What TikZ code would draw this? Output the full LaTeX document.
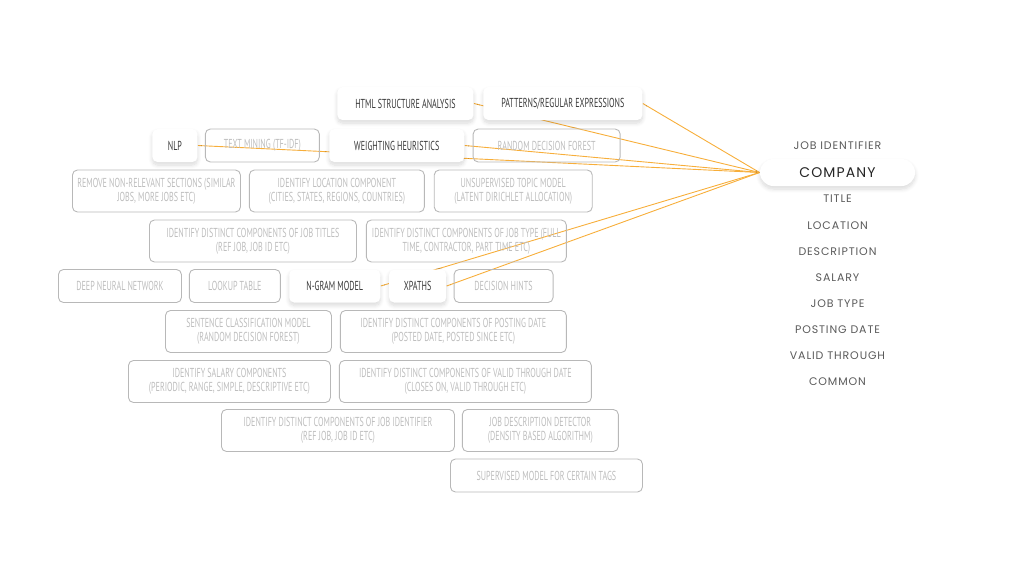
\documentclass[tikz,border=0pt]{standalone}
\usepackage{fontspec}
\usepackage{tikz}
\usetikzlibrary{positioning,backgrounds,shadows.blur}
\newfontfamily\condfont[FakeStretch=0.62]{PT Sans}
\newfontfamily\geofont[LetterSpace=8]{Poppins}
\definecolor{darktext}{HTML}{3A3A3A}
\definecolor{softtext}{HTML}{BDBDBD}
\definecolor{boxline}{HTML}{B8B8B8}
\definecolor{fieldtext}{HTML}{5A5A5A}
\definecolor{linkorange}{HTML}{F7AE3A}
\tikzset{tool node/.style={draw=boxline,line width=0.9pt,rounded corners=5pt,text=softtext,font=\condfont\fontsize{13}{14}\selectfont,align=center,minimum height=33pt,inner sep=2pt},
  pick node/.style={tool node,draw=none,fill=white,text=darktext,blur shadow={shadow xshift=0pt,shadow yshift=-3pt,shadow blur radius=4pt,shadow blur steps=8,shadow opacity=15}},
  field node/.style={font=\geofont\fontsize{11}{13}\selectfont,text=fieldtext},
  link/.style={draw=linkorange,line width=0.9pt}}

\begin{document}
\begin{tikzpicture}[x=1pt,y=-1pt,node distance=8pt]
            \useasboundingbox (0,0) rectangle (1024,576);
            \node[pick node,minimum width=136pt,anchor=west] (html) at (337,103.5) {HTML STRUCTURE ANALYSIS};
            \node[pick node,minimum width=159pt] (patterns) [right=9pt of html] {PATTERNS/REGULAR EXPRESSIONS};

            \node[pick node,minimum width=45pt,anchor=west] (nlp) at (152,145.5) {NLP};
            \node[tool node,minimum width=114pt] (mining) [right=7pt of nlp] {TEXT MINING (TF-IDF)};
            \node[pick node,minimum width=135pt] (weighting) [right=9pt of mining] {WEIGHTING HEURISTICS};
            \node[tool node,minimum width=147pt] (forest) [right=8pt of weighting] {RANDOM DECISION FOREST};

            \node[tool node,minimum width=168pt,minimum height=42pt,anchor=west] (remove) at (72,191) {REMOVE NON-RELEVANT SECTIONS (SIMILAR\\JOBS, MORE JOBS ETC)};
            \node[tool node,minimum width=175pt,minimum height=42pt] (location) [right=of remove] {IDENTIFY LOCATION COMPONENT\\(CITIES, STATES, REGIONS, COUNTRIES)};
            \node[tool node,minimum width=158pt,minimum height=42pt] (topic) [right=9pt of location] {UNSUPERVISED TOPIC MODEL\\(LATENT DIRICHLET ALLOCATION)};

            \node[tool node,minimum width=207pt,minimum height=42pt,anchor=west] (titles) at (149,241) {IDENTIFY DISTINCT COMPONENTS OF JOB TITLES\\(REF JOB, JOB ID ETC)};
            \node[tool node,minimum width=200pt,minimum height=42pt] (jobtype) [right=9pt of titles] {IDENTIFY DISTINCT COMPONENTS OF JOB TYPE (FULL\\TIME, CONTRACTOR, PART TIME ETC)};

            \node[tool node,minimum width=123pt,anchor=west] (deep) at (58,286) {DEEP NEURAL NETWORK};
            \node[tool node,minimum width=91pt] (lookup) [right=7pt of deep] {LOOKUP TABLE};
            \node[pick node,minimum width=91pt] (ngram) [right=of lookup] {N-GRAM MODEL};
            \node[pick node,minimum width=57pt] (xpaths) [right=of ngram] {XPATHS};
            \node[tool node,minimum width=99pt] (hints) [right=7pt of xpaths] {DECISION HINTS};

            \node[tool node,minimum width=166pt,minimum height=42pt,anchor=west] (sentence) at (165,331.5) {SENTENCE CLASSIFICATION MODEL\\(RANDOM DECISION FOREST)};
            \node[tool node,minimum width=226pt,minimum height=42pt] (posting) [right=of sentence] {IDENTIFY DISTINCT COMPONENTS OF POSTING DATE\\(POSTED DATE, POSTED SINCE ETC)};

            \node[tool node,minimum width=202pt,minimum height=42pt,anchor=west] (salary) at (128,381.5) {IDENTIFY SALARY COMPONENTS\\(PERIODIC, RANGE, SIMPLE, DESCRIPTIVE ETC)};
            \node[tool node,minimum width=252pt,minimum height=42pt] (valid) [right=of salary] {IDENTIFY DISTINCT COMPONENTS OF VALID THROUGH DATE\\(CLOSES ON, VALID THROUGH ETC)};

            \node[tool node,minimum width=233pt,minimum height=42pt,anchor=west] (jobid) at (221,430.5) {IDENTIFY DISTINCT COMPONENTS OF JOB IDENTIFIER\\(REF JOB, JOB ID ETC)};
            \node[tool node,minimum width=156pt,minimum height=42pt] (detector) [right=7pt of jobid] {JOB DESCRIPTION DETECTOR\\(DENSITY BASED ALGORITHM)};

            \node[tool node,minimum width=192pt,anchor=west] (supervised) at (450,475.5) {SUPERVISED MODEL FOR CERTAIN TAGS};

            \node[field node] (f1) at (837.5,146) {JOB IDENTIFIER};
            \node[pick node,font=\geofont\fontsize{14}{16}\selectfont,text=black!85,minimum width=155pt,minimum height=27pt,rounded corners=13.5pt] (company) at (837.5,172.5) {COMPANY};
            \node[field node] (f3) at (837.5,199) {TITLE};
            \node[field node] (f4) at (837.5,225.5) {LOCATION};
            \node[field node] (f5) at (837.5,251.5) {DESCRIPTION};
            \node[field node] (f6) at (837.5,277.5) {SALARY};
            \node[field node] (f7) at (837.5,303.5) {JOB TYPE};
            \node[field node] (f8) at (837.5,330) {POSTING DATE};
            \node[field node] (f9) at (837.5,356) {VALID THROUGH};
            \node[field node] (f10) at (837.5,382) {COMMON};

            \begin{scope}[on background layer]
            \path[link]
            (html.east) edge (company.west)
            (patterns.east) edge (company.west)
            (nlp.east) edge (company.west)
            (weighting.east) edge (company.west)
            (ngram.east) edge (company.west)
            (xpaths.east) edge (company.west);
            \end{scope}
        \end{tikzpicture}
\end{document}
